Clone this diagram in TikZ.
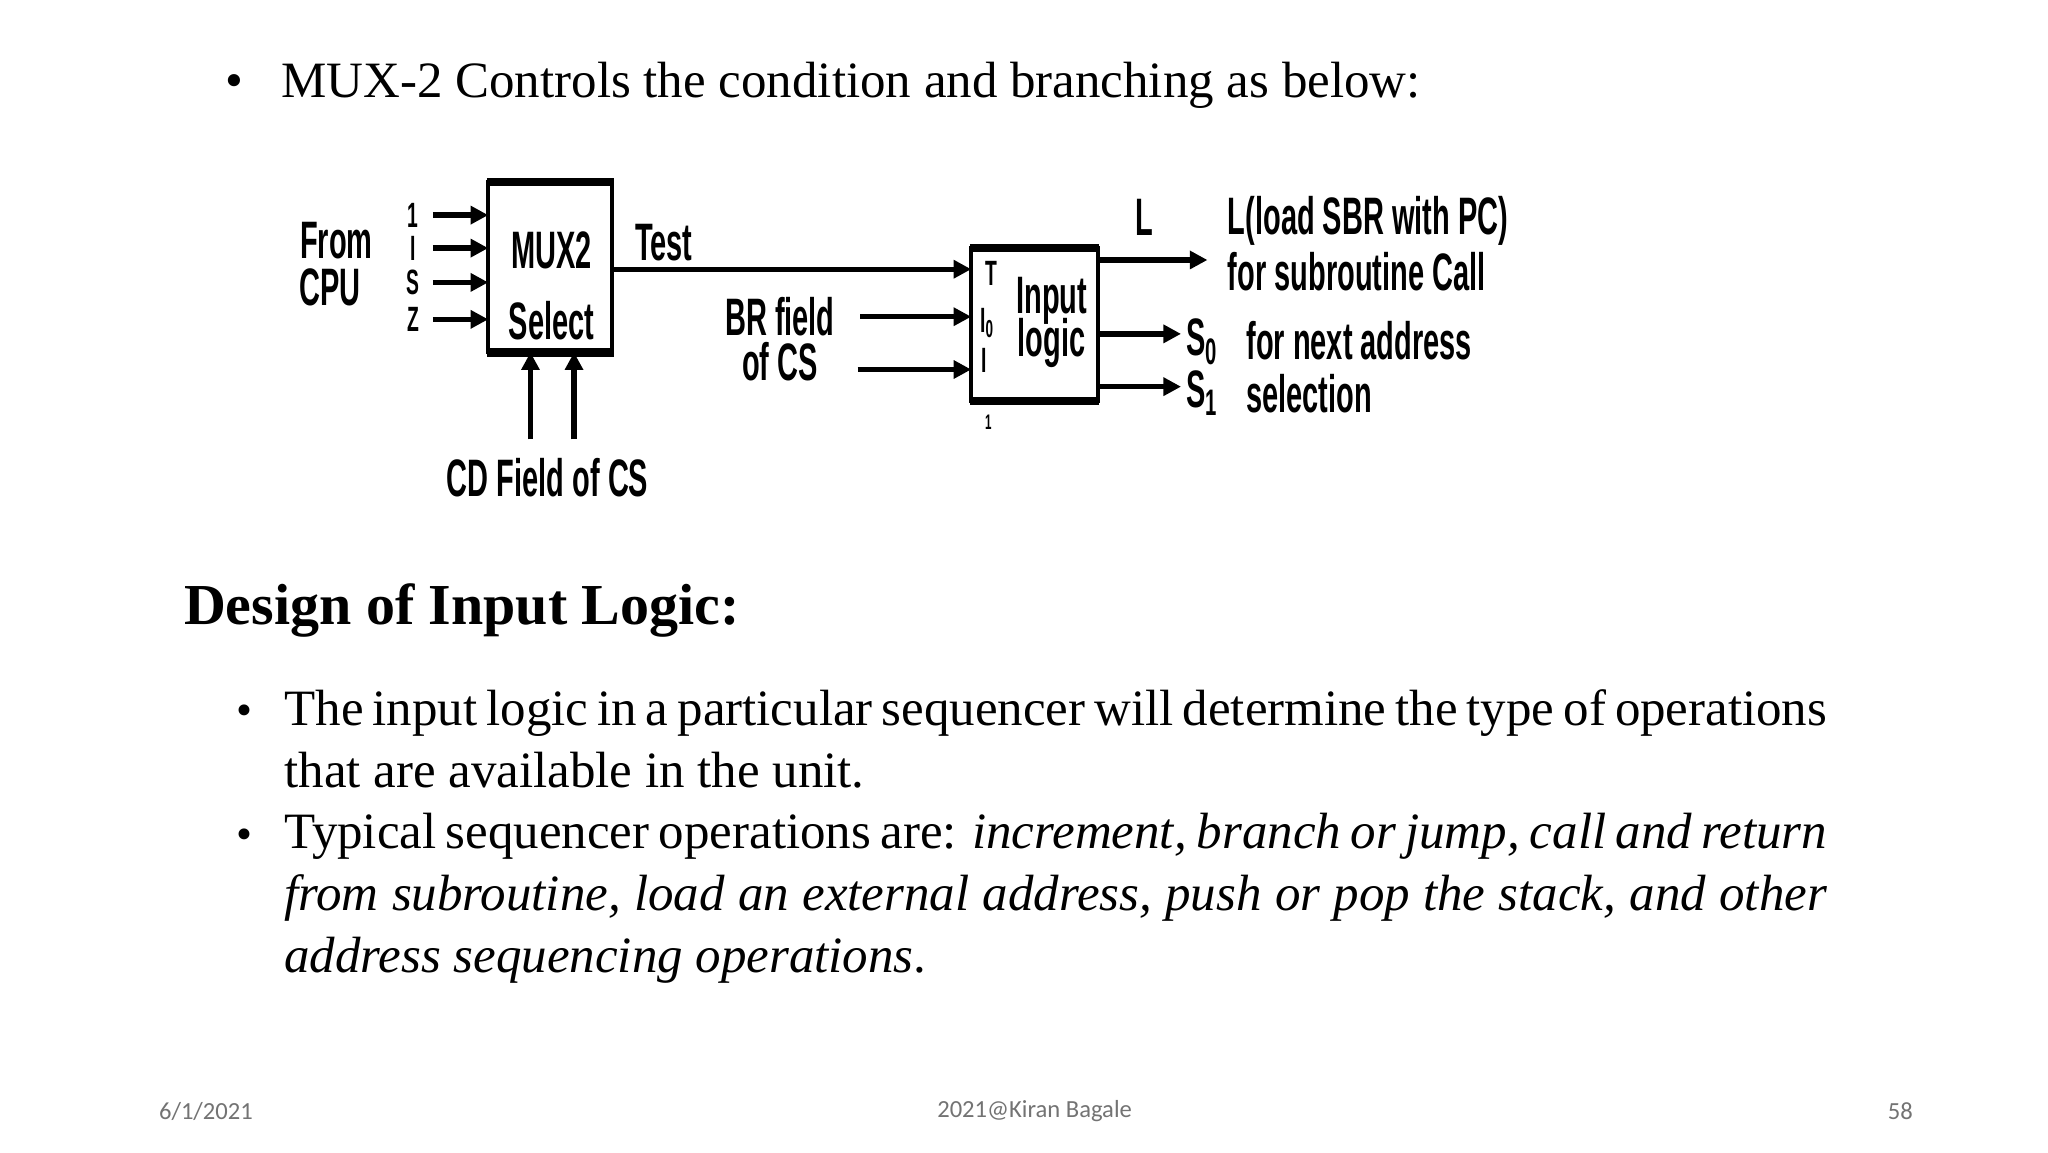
\documentclass[tikz,border=0pt]{standalone}
\usepackage{fontspec}
\setmainfont{Liberation Serif}
\newfontfamily\narfont{Liberation Sans}
\newfontfamily\footfont{Carlito}
\usetikzlibrary{arrows.meta,positioning}
\newcommand{\nar}[1]{\scalebox{0.55}[1]{\narfont\bfseries #1}}
\tikzset{
  sig/.style={line width=1.5pt,-{Triangle[length=5pt,width=5pt]}},
  lbl/.style={inner sep=0pt,font=\fontsize{15}{16}\selectfont},
  small/.style={inner sep=0pt,font=\fontsize{10}{11}\selectfont},
  body/.style={inner sep=0pt,anchor=north west,text width=439pt,align=justify,
    font=\fontsize{14.5}{17.6}\selectfont},
  foot/.style={inner sep=0pt,text=black!55,font=\footfont\fontsize{7}{8}\selectfont}
}
\begin{document}
\begin{tikzpicture}[x=0.013196cm,y=-0.013196cm]
    \useasboundingbox[fill=white] (0,0) rectangle (1552,873);
    % heading bullet
    \node[inner sep=0pt,anchor=base west,font=\fontsize{14.5}{15}\selectfont] (head) at (170,74) {\textbullet\hspace{11pt}MUX-2 Controls the condition and branching as below:};
    % MUX2 block
    \draw[line width=1.2pt] (370,138) rectangle (464,267);
    \draw[line width=2.4pt] (369,138) -- (465,138) (369,267) -- (465,267);
    \node[lbl] (muxa) at (418,190) {\nar{MUX2}};
    \node[lbl] (muxb) at (418,243) {\nar{Select}};
    % input logic block
    \draw[line width=1.2pt] (736,188) rectangle (832,304);
    \draw[line width=2.4pt] (735,188) -- (833,188) (735,304) -- (833,304);
    \node[lbl] (inpa) at (797,228) {\nar{Input}};
    \node[lbl] (inpb) at (797,260) {\nar{logic}};
    \node[small] (pt) at (751,207) {\nar{T}};
    \node[small] (pi0) at (748,245) {\nar{I\textsubscript{0}}};
    \node[small] (pi1) at (746,273) {\nar{I}};
    \node[inner sep=0pt,font=\fontsize{6}{7}\selectfont] (pone) at (749,320) {\nar{1}};
    % CPU inputs
    \node[lbl] (from) at (255,182) {\nar{From}};
    \node[lbl] (cpu) at (250,218) {\nar{CPU}};
    \foreach \n/\t/\y in {a/1/163,b/I/188,c/S/214,d/Z/242}{
      \node[small] (in\n) at (313,\y) {\nar{\t}};
      \coordinate (s\n) at (328,\y);
      \coordinate (e\n) at (370,\y);
      \draw[sig] (s\n) -- (e\n);
    }
    % test line
    \coordinate (tA) at (464,204);
    \coordinate (tB) at (736,204);
    \draw[sig] (tA) -- (tB);
    \node[lbl] (test) at (503,184) {\nar{Test}};
    % BR field
    \node[lbl] (bra) at (591,240) {\nar{BR field}};
    \node[lbl] (brb) at (591,274) {\nar{of CS}};
    \coordinate (b0) at (652,240); \coordinate (b0e) at (736,240);
    \coordinate (b1) at (650,280); \coordinate (b1e) at (736,280);
    \draw[sig] (b0) -- (b0e);
    \draw[sig] (b1) -- (b1e);
    % CD field
    \node[lbl] (cd) at (415,362) {\nar{CD Field of CS}};
    \coordinate (c0) at (402,333); \coordinate (c0e) at (402,267);
    \coordinate (c1) at (435,333); \coordinate (c1e) at (435,267);
    \draw[sig] (c0) -- (c0e);
    \draw[sig] (c1) -- (c1e);
    % outputs
    \coordinate (oL) at (832,197); \coordinate (oLe) at (915,197);
    \coordinate (o0) at (832,253); \coordinate (o0e) at (895,253);
    \coordinate (o1) at (832,293); \coordinate (o1e) at (895,293);
    \draw[sig] (oL) -- (oLe);
    \draw[sig] (o0) -- (o0e);
    \draw[sig] (o1) -- (o1e);
    \node[lbl] (ll) at (867,165) {\nar{L}};
    \node[lbl] (ls0) at (911,259) {\nar{S\textsubscript{0}}};
    \node[lbl] (ls1) at (911,298) {\nar{S\textsubscript{1}}};
    \node[lbl,anchor=west] (la) at (930,167) {\nar{L(load SBR with PC)}};
    \node[lbl,anchor=west] (lb) at (930,206) {\nar{for subroutine Call}};
    \node[lbl,anchor=west] (lc) at (944,258) {\nar{for next address}};
    \node[lbl,anchor=west] (ld) at (944,298) {\nar{selection}};
    % design section
    \node[inner sep=0pt,anchor=base west,font=\bfseries\fontsize{16.5}{18}\selectfont] (design) at (139,473) {Design of Input Logic:};
    \node[inner sep=0pt,font=\fontsize{13}{15}\selectfont] (bl1) at (185,542) {\textbullet};
    \node[body] (p1) at (215,522) {The input logic in a particular sequencer will determine the type of operations that are available in the unit.};
    \node[inner sep=0pt,font=\fontsize{13}{15}\selectfont] (bl2) at (185,636) {\textbullet};
    \node[body] (p2) at (215,616) {\hyphenpenalty=10000 Typical sequencer operations are: \textit{increment, branch or jump, call and return from subroutine, load an external address, push or pop the stack, and other address sequencing operations}.};
    % footer
    \node[foot,anchor=west] (date) at (120,842) {6/1/2021};
    \node[foot] (auth) at (784,842) {2021@Kiran Bagale};
    \node[foot,anchor=east] (page) at (1450,842) {58};
\end{tikzpicture}
\end{document}
